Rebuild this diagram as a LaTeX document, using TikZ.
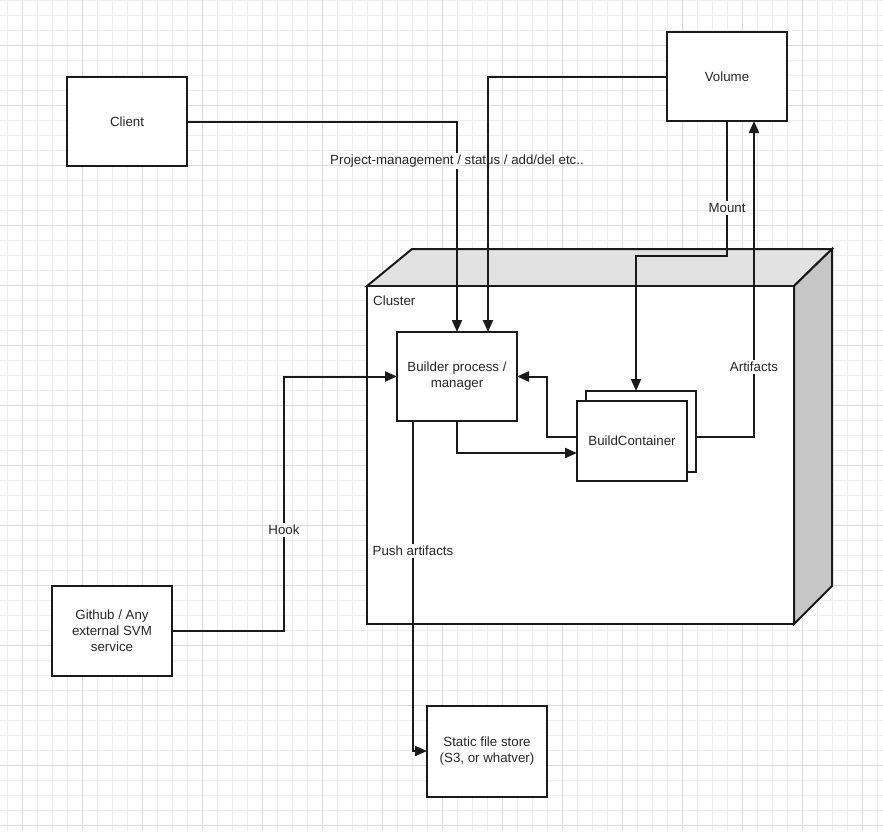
\documentclass[tikz,border=0pt]{standalone}
\usepackage{fontspec}
\setmainfont{Liberation Sans}
\usetikzlibrary{arrows.meta,calc}
\definecolor{gridminor}{HTML}{EDEDED}
\definecolor{gridmajor}{HTML}{DADADA}
\definecolor{lineclr}{HTML}{1A1A1A}
\definecolor{txt}{HTML}{262626}
\definecolor{topface}{HTML}{E2E2E2}
\definecolor{sideface}{HTML}{C6C6C6}
\pgfdeclarelayer{gridl}
\pgfdeclarelayer{lines}
\pgfdeclarelayer{gaps}
\pgfsetlayers{gridl,lines,gaps,main}
\begin{document}
\begin{tikzpicture}[x=1pt,y=-1pt,
  box/.style={draw=lineclr, line width=2pt, fill=white, text=txt, align=center,
    font=\fontsize{13.3}{16}\selectfont, inner sep=2pt, outer sep=0pt},
  conn/.style={draw=lineclr, line width=2pt, -{Triangle[length=12pt,width=10pt]}},
  lbl/.style={text=txt, font=\fontsize{13.3}{16}\selectfont, inner sep=2pt},
  face/.style={draw=lineclr, line width=2pt, line join=miter}]
\useasboundingbox (0,0) rectangle (883,831);
% grid
\begin{pgfonlayer}{gridl}
  \fill[white] (0,0) rectangle (883,831);
  \foreach \i in {0,...,58} {\draw[gridminor, line width=1pt] (7.5+15*\i,0) -- (7.5+15*\i,831);}
  \foreach \i in {0,...,55} {\draw[gridminor, line width=1pt] (0,0.5+15*\i) -- (883,0.5+15*\i);}
  \foreach \i in {0,...,14} {\draw[gridmajor, line width=1pt] (22.5+60*\i,0) -- (22.5+60*\i,831);}
  \foreach \i in {0,...,13} {\draw[gridmajor, line width=1pt] (0,45.5+60*\i) -- (883,45.5+60*\i);}
\end{pgfonlayer}
% cluster 3D box
\begin{pgfonlayer}{lines}
  \filldraw[face, fill=topface] (367,286) -- (412,249) -- (832,249) -- (794,286) -- cycle;
  \filldraw[face, fill=sideface] (794,286) -- (832,249) -- (832,586) -- (794,624) -- cycle;
  \filldraw[face, fill=white] (367,286) rectangle (794,624);
\end{pgfonlayer}
\node[lbl, anchor=west] (clusterlbl) at (371,301) {Cluster};
% boxes
\node[box, minimum width=120pt, minimum height=89pt] (client) at (127,121.5) {Client};
\node[box, minimum width=120pt, minimum height=89pt] (volume) at (727,76.5) {Volume};
\node[box, minimum width=120pt, minimum height=89pt] (builder) at (457,376.5) {Builder process /\\manager};
\node[box, minimum width=110pt, minimum height=81pt] (bcback) at (641,431.5) {};
\node[box, minimum width=110pt, minimum height=80pt] (bc) at (632,441) {BuildContainer};
\node[box, minimum width=120pt, minimum height=90pt] (github) at (112,631) {Github / Any\\external SVM\\service};
\node[box, minimum width=120pt, minimum height=91pt] (static) at (487,751) {Static file store\\(S3, or whatver)};
\coordinate (mnt) at (636,256);
% connectors
\begin{pgfonlayer}{lines}
  \draw[conn] (client.east) -| (builder.north);
  \draw[conn] (volume.west) -| ([xshift=31pt]builder.north);
  \draw[conn] (volume.south) |- (mnt) -- ([xshift=-5pt]bcback.north);
  \draw[conn] ([yshift=-5.5pt]bcback.east) -| ([xshift=27pt]volume.south);
  \draw[conn] (builder.south) |- ([yshift=-12pt]bc.west);
  \draw[conn] ([yshift=4pt]bc.west) -- ++(-30,0) |- (builder.east);
  \draw[conn] (github.east) -- ++(112,0) |- (builder.west);
  \draw[conn] ([xshift=-44pt]builder.south) |- (static.west);
\end{pgfonlayer}
% labels with gaps in their lines
\node[lbl] (lproj) at (457,161) {Project-management / status / add/del etc..};
\node[lbl] (lmount) at (727,208) {Mount};
\node[lbl] (lart) at (754,367) {Artifacts};
\node[lbl] (lhook) at (284,530) {Hook};
\node[lbl] (lpush) at (413,551) {Push artifacts};
\begin{pgfonlayer}{gaps}
  \foreach \l in {lproj,lmount,lart,lhook,lpush} {
    \fill[white] ([xshift=-2.5pt]\l.north) rectangle ([xshift=2.5pt]\l.south);
  }
\end{pgfonlayer}
\end{tikzpicture}
\end{document}
